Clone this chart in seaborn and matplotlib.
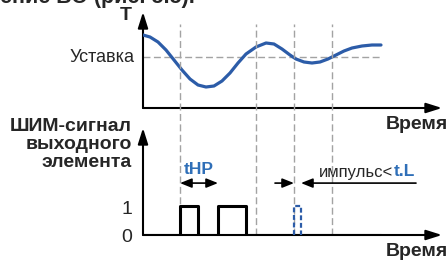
import numpy as np
import pandas as pd
import matplotlib
matplotlib.use('Agg')
import matplotlib.pyplot as plt
import seaborn as sns

# temperature curve (time in px from origin, T arbitrary)
curve_t = [0, 7, 15, 23, 31, 39, 47, 55, 63, 71, 79, 87, 95, 103, 113, 123,
           131, 139, 147, 153, 161, 169, 177, 185, 193, 201, 209, 219, 229, 238]
curve_T = [73, 71, 66, 58, 48, 38, 29, 23, 21, 22, 27, 35, 45, 54, 61, 65,
           64, 59, 53, 49, 46, 45, 46, 49, 53, 57, 60, 62, 63, 63]
setpoint = 51
t_end = 238

# dashed time marks
marks_t = [37, 113, 151, 189]

# PWM output signal
pwm_t = [0, 37, 55, 75, 103, 238]
pwm_v = [0, 1, 0, 1, 0, 0]

# suppressed short pulse (dashed blue)
short_t = [151, 151, 158, 158]
short_v = [0, 1, 1, 0]

# arrows
thp_span = (37, 75)
imp_left = (132, 151)
imp_right = (158, 273)
arrow_level = 1.79

BLUE = '#2c5ca8'
TXTBLUE = '#2f6fb8'
GRAY = '#a3a3a3'

sns.set_style('white')
plt.rcParams['font.family'] = ['Liberation Sans', 'DejaVu Sans']

W, H = 447, 261
fig = plt.figure(figsize=(W / 100, H / 100), dpi=100)


def px(x, y):
    return x / W, 1 - y / H


# top axes: temperature
ax1 = fig.add_axes([143 / W, 1 - 108 / H, 299 / W, 96 / H])
ax1.set_xlim(0, 299)
ax1.set_ylim(0, 96)
ax1.axis('off')

# bottom axes: pwm signal
ax2 = fig.add_axes([143 / W, 1 - 235 / H, 299 / W, 107 / H])
ax2.set_xlim(0, 299)
ax2.set_ylim(0, 107 / 29)
ax2.axis('off')

# axes with arrows
for ax in (ax1, ax2):
    aprops = dict(arrowstyle='-|>,head_length=0.95,head_width=0.3', color='black',
                  lw=1.5, shrinkA=0, shrinkB=0, mutation_scale=10)
    ax.annotate('', xy=(1, 0), xytext=(0, 0), xycoords='axes fraction',
                arrowprops=aprops)
    ax.annotate('', xy=(0, 1), xytext=(0, 0), xycoords='axes fraction',
                arrowprops=aprops)

# vertical dashed marks crossing both panels
for t in marks_t:
    ax2.axvline(t, ymin=0, ymax=(235 - 24) / 107, color=GRAY, lw=1.0,
                dashes=(5, 2.5), clip_on=False, zorder=1)

ax1.hlines(setpoint, 0, t_end, color=GRAY, lw=1.0, linestyles=(0, (5, 2.5)), zorder=1)

sns.lineplot(x=curve_t, y=curve_T, ax=ax1, color=BLUE, lw=2.3, zorder=3)

sns.lineplot(x=pwm_t, y=pwm_v, ax=ax2, color='black', lw=2.2,
             drawstyle='steps-post', zorder=3)
sns.lineplot(x=short_t, y=short_v, ax=ax2, color=BLUE, lw=1.6, sort=False,
             estimator=None, dashes=False, linestyle=(0, (2.2, 1.2)), zorder=3)

small_arrow = 'head_length=0.7,head_width=0.28'
ax2.annotate('', xy=(thp_span[1], arrow_level), xytext=(thp_span[0], arrow_level),
             arrowprops=dict(arrowstyle='<|-|>,' + small_arrow, color='black', lw=1.2,
                             shrinkA=0, shrinkB=0, mutation_scale=10))
ax2.annotate('', xy=(imp_left[1], arrow_level), xytext=(imp_left[0], arrow_level),
             arrowprops=dict(arrowstyle='-|>,' + small_arrow, color='black', lw=1.2,
                             shrinkA=0, shrinkB=0, mutation_scale=10))
ax2.annotate('', xy=(imp_right[0], arrow_level), xytext=(imp_right[1], arrow_level),
             arrowprops=dict(arrowstyle='-|>,' + small_arrow, color='black', lw=1.2,
                             shrinkA=0, shrinkB=0, mutation_scale=10))

# labels
fig.text(*px(0, 3), 'ение ВО (рис. 5.5).', fontsize=15.5, fontweight='bold',
         ha='left', va='baseline')
fig.text(*px(126, 16), 'Т', fontsize=14, fontweight='bold', ha='center', va='center')
fig.text(*px(135, 58), 'Уставка', fontsize=13, ha='right', va='center')
fig.text(*px(386, 129), 'Время', fontsize=14, fontweight='bold', ha='left', va='baseline')
fig.text(*px(386, 256), 'Время', fontsize=14, fontweight='bold', ha='left', va='baseline')
for i, s in enumerate(['ШИМ-сигнал', 'выходного', 'элемента']):
    fig.text(*px(132, 131 + 18 * i), s, fontsize=14, fontweight='bold',
             ha='right', va='baseline')
fig.text(*px(127, 209), '1', fontsize=14, ha='center', va='center')
fig.text(*px(127, 238), '0', fontsize=14, ha='center', va='center')
fig.text(*px(199, 169), 'tHP', fontsize=12.5, fontweight='bold', color=TXTBLUE,
         ha='center', va='center')
fig.text(*px(393, 172), 'импульс<', fontsize=12, ha='right', va='center')
fig.text(*px(394, 172), 't.L', fontsize=12.5, fontweight='bold', color=TXTBLUE,
         ha='left', va='center')

fig.savefig('out.png', dpi=100)
